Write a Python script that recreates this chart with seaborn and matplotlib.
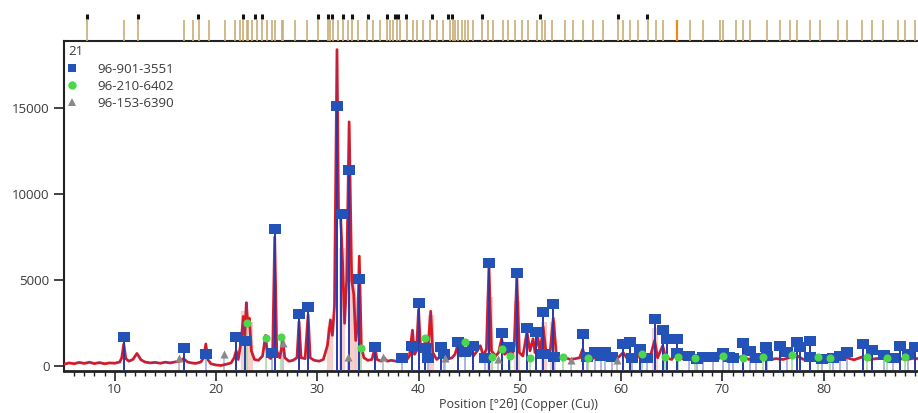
import numpy as np
import pandas as pd
import matplotlib
matplotlib.use("Agg")
import matplotlib.pyplot as plt
import seaborn as sns
from matplotlib.lines import Line2D

# ---------------- data ----------------
# measured profile (2theta, counts)
prof_x = [5.0, 5.5, 6.0, 6.5, 7.0, 7.5, 8.0, 8.5, 9.0, 9.5, 10.0, 10.5, 10.7, 10.9, 11.1, 11.4, 11.8, 12.2, 12.6,
          13.0, 13.5, 14.0, 14.5, 15.0, 15.5, 16.0, 16.4, 16.8, 17.2, 17.6, 18.0, 18.5, 18.8, 19.0, 19.2, 19.5,
          20.0, 20.5, 21.0, 21.5, 21.8, 22.0, 22.2, 22.5, 22.7, 22.85, 23.0, 23.15, 23.3, 23.5, 23.8, 24.2, 24.6,
          24.9, 25.1, 25.4, 25.6, 25.8, 26.0, 26.3, 26.6, 26.8, 27.2, 27.6, 28.0, 28.2, 28.4, 28.8, 29.1, 29.3,
          29.7, 30.2, 30.6, 31.0, 31.3, 31.5, 31.7, 31.95, 32.1, 32.3, 32.5, 32.7, 32.9, 33.15, 33.4, 33.6, 33.8,
          34.0, 34.15, 34.35, 34.6, 35.0, 35.4, 35.7, 35.9, 36.3, 36.6, 36.9, 37.3, 37.8, 38.2, 38.5, 38.8, 39.1,
          39.4, 39.6, 39.8, 40.0, 40.2, 40.5, 40.7, 40.9, 41.2, 41.4, 41.8, 42.2, 42.5, 42.8, 43.3, 43.6, 43.9,
          44.2, 44.6, 45.0, 45.4, 45.8, 46.1, 46.4, 46.7, 46.95, 47.2, 47.6, 47.9, 48.2, 48.5, 48.9, 49.2, 49.45,
          49.7, 49.95, 50.3, 50.7, 51.0, 51.3, 51.5, 51.75, 52.0, 52.3, 52.6, 53.0, 53.3, 53.6, 54.0, 54.5, 55.0,
          55.5, 55.9, 56.2, 56.5, 57.0, 57.5, 58.0, 58.5, 59.0, 59.5, 60.2, 60.6, 61.0, 61.5, 61.9, 62.3, 62.8,
          63.3, 63.6, 64.1, 64.4, 65.0, 65.5, 65.9, 66.5, 67.0, 67.6, 68.2, 69.0, 69.6, 70.1, 70.6, 71.3, 72.0,
          72.6, 73.2, 74.0, 74.6, 75.3, 76.0, 76.8, 77.4, 78.0, 78.6, 79.3, 80.0, 80.7, 81.4, 82.3, 83.0, 83.8,
          84.5, 85.2, 86.0, 86.8, 87.5, 88.2, 89.0, 89.5, 90.0]
prof_y = [120, 200, 150, 230, 170, 240, 160, 220, 150, 200, 180, 250, 500, 1300, 450, 300, 400, 750, 380,
          250, 200, 230, 180, 240, 200, 260, 300, 450, 250, 200, 170, 250, 500, 1300, 400, 150,
          80, 50, 120, 200, 500, 900, 400, 1500, 2900, 1800, 3700, 2400, 2800, 900, 400, 350, 600,
          1800, 600, 450, 800, 7500, 900, 500, 1500, 500, 300, 350, 500, 2600, 500, 450, 3000, 500,
          350, 300, 400, 1200, 2700, 1800, 3500, 18400, 9000, 8800, 6000, 2500, 5000, 14200, 5000, 4200, 1500,
          2500, 6400, 1200, 500, 350, 400, 1100, 400, 300, 500, 300, 350, 300, 400, 600, 350, 600,
          2100, 700, 900, 3300, 1000, 800, 1700, 800, 3200, 800, 400, 600, 800, 400, 500, 700, 1300,
          600, 900, 1000, 600, 900, 1200, 600, 1000, 5800, 900, 600, 800, 1600, 700, 900, 600, 1200,
          5200, 800, 600, 2000, 900, 1600, 800, 1800, 800, 2300, 700, 900, 2800, 700, 450, 500, 400,
          450, 500, 1000, 450, 400, 550, 500, 400, 450, 400, 800, 450, 600, 400, 900, 450, 400,
          1500, 500, 1200, 500, 400, 900, 450, 400, 500, 380, 450, 380, 450, 600, 400, 450, 600,
          400, 450, 500, 380, 450, 400, 550, 600, 400, 500, 380, 450, 400, 450, 500, 380, 550,
          400, 450, 500, 380, 450, 400, 480, 400, 420]

# phase 96-901-3551 (blue squares)
blue_x = [10.9, 16.85, 19.0, 22.0, 22.9, 25.5, 25.8, 28.2, 29.1, 31.95, 32.3, 33.1, 34.1, 35.7, 38.4, 39.35,
          40.0, 40.6, 40.9, 42.2, 42.5, 43.9, 44.6, 45.4, 46.6, 47.0, 48.2, 48.9, 49.7, 50.7, 51.6, 52.3, 53.3,
          52.3, 53.4, 56.2, 56.6, 57.4, 58.4, 59.1, 60.2, 60.9, 61.1, 61.9, 63.3, 64.1, 64.5, 65.5, 65.5, 66.7,
          68.1, 69.1, 70.1, 71.0, 72.0, 72.7, 74.3, 74.4, 75.7, 76.4, 77.4, 77.7, 78.6, 78.6, 80.9, 82.3, 83.9,
          84.8, 85.9, 87.5, 89.0, 67.5, 73.3, 81.6, 86.8, 88.3, 79.8, 70.6, 62.6, 58.0]
blue_y = [1700, 1050, 700, 1700, 1450, 770, 7960, 3020, 3430, 15100, 8840, 11400, 5060, 1150, 460, 1160,
          3660, 1050, 470, 1100, 700, 1400, 810, 1160, 470, 5990, 1920, 1100, 5410, 2210, 1980, 3140, 3600,
          700, 520, 1860, 520, 810, 810, 520, 1280, 1400, 470, 990, 2730, 2090, 1570, 1570, 760, 580,
          520, 520, 760, 470, 1340, 870, 1100, 580, 1160, 810, 1400, 1100, 1450, 520, 470, 810, 1280,
          930, 640, 1160, 1100, 450, 500, 600, 480, 700, 450, 520, 480, 600]

# phase 96-210-6402 (green circles)
green_x = [23.1, 24.9, 26.4, 34.3, 40.6, 44.6, 47.3, 48.2, 49.0, 51.0, 54.3, 56.7, 62.1, 64.3, 65.6, 67.3,
           70.1, 72.0, 74.0, 76.9, 79.4, 80.6, 84.3, 86.2, 88.0]
green_y = [2500, 1630, 1690, 1050, 1630, 1400, 520, 990, 580, 470, 520, 470, 700, 520, 520, 470,
           580, 470, 520, 640, 520, 470, 520, 470, 520]

# phase 96-153-6390 (grey triangles)
grey_x = [16.4, 20.8, 26.6, 33.0, 36.5, 42.6, 47.8, 55.0, 59.6]
grey_y = [470, 700, 1340, 520, 520, 470, 400, 380, 380]

# light reference sticks of the other phases
pale_x = [32.4, 33.5, 22.8, 23.4, 31.3, 34.0, 41.2, 47.05, 49.75, 52.4, 53.3, 63.3]
pale_y = [6900, 5000, 3200, 2600, 2300, 4000, 3000, 4000, 3800, 2600, 2600, 2200]

# reference stick positions in the top strip
strip_x = [7.27, 10.92, 12.30, 16.85, 17.73, 18.33, 19.31, 20.89, 21.88, 22.37, 22.67, 23.07, 23.16, 23.56,
           24.05, 24.55, 25.04, 25.53, 25.83, 26.52, 26.62, 27.80, 28.99, 30.07, 31.06, 31.26, 31.55, 32.05,
           32.54, 33.04, 33.43, 34.02, 34.91, 35.50, 36.19, 36.89, 37.18, 37.48, 37.87, 38.17, 38.86, 39.45,
           39.85, 40.44, 41.13, 41.82, 42.41, 43.10, 43.40, 43.60, 43.89, 44.29, 44.59, 44.88, 45.38, 46.26,
           46.86, 47.35, 48.34, 48.83, 49.52, 50.21, 50.80, 51.69, 52.19, 52.48, 53.17, 54.46, 55.25, 56.23,
           57.22, 58.21, 59.69, 60.18, 60.87, 61.66, 62.65, 63.44, 64.13, 65.51, 66.80, 68.08, 69.76, 70.05,
           71.34, 72.03, 72.72, 74.40, 75.68, 76.67, 77.36, 78.64, 79.63, 81.41, 82.30, 83.78, 84.76, 85.85,
           87.33, 88.02, 89.01]
# black markers at the top of the strip
mark_x = [7.27, 12.30, 18.2, 22.7, 23.85, 24.55, 30.07, 31.06, 31.46, 32.54, 33.43, 35.0, 36.9, 37.7,
          37.97, 38.76, 41.33, 42.9, 43.3, 46.26, 51.99, 59.7, 62.55]

legend_title = "21"
legend_labels = ["96-901-3551", "96-210-6402", "96-153-6390"]
x_ticks = [10, 20, 30, 40, 50, 60, 70, 80]
y_ticks = [0, 5000, 10000, 15000]
x_label = "Position [°2θ] (Copper (Cu))"

# ---------------- style ----------------
sns.set_theme(style="ticks")
plt.rcParams["font.family"] = ["Open Sans", "DejaVu Sans"]
TXT = "#3a3a3a"

W, H = 918, 413
fig = plt.figure(figsize=(W / 100, H / 100), dpi=100)
L, R = 64 / W, 1.0
B, T = 1 - 371 / H, 1 - 41 / H
ax = fig.add_axes([L, B, R - L, T - B])
axs = fig.add_axes([L, T, R - L, (41 - 10) / H])

XMIN, XMAX = 5.0, 5.0 + (W - 64) / 10.13
YMIN, YMAX = -270, 18900

# pale reference sticks
ax.vlines(pale_x, YMIN, pale_y, color="#f2c4c0", lw=4.5, alpha=0.8, zorder=1)

# sticks of phases
ax.vlines(green_x, YMIN, green_y, color="#9fe09f", lw=1.2, zorder=2)
ax.vlines(grey_x, YMIN, grey_y, color="#b9b9c9", lw=1.2, zorder=2)
ax.vlines(blue_x, YMIN, blue_y, color="#aab0e8", lw=1.3, zorder=2)

# profile
df = pd.DataFrame({"x": prof_x, "y": prof_y})
sns.lineplot(data=df, x="x", y="y", ax=ax, color="#e41c1c", lw=2.0, sort=False, estimator=None, zorder=3)
sns.lineplot(data=df, x="x", y="y", ax=ax, color="#7a2a8a", lw=0.7, sort=False, estimator=None, zorder=4, alpha=0.6)

# dark blue sticks on top for the blue phase
tall = [(x, y) for x, y in zip(blue_x, blue_y) if y > 900]
ax.vlines([t[0] for t in tall], YMIN, [t[1] for t in tall], color="#2a3aa8", lw=1.4, zorder=5)

rect = [(-1.3, -1), (1.3, -1), (1.3, 1), (-1.3, 1), (-1.3, -1)]
sns.scatterplot(x=blue_x, y=blue_y, ax=ax, marker=rect, s=80, color="#2352b8", linewidth=0, zorder=6)
sns.scatterplot(x=green_x, y=green_y, ax=ax, marker="o", s=34, color="#4cd64c", linewidth=0, zorder=6)
sns.scatterplot(x=grey_x, y=grey_y, ax=ax, marker="^", s=34, color="#8a8a8a", linewidth=0, zorder=6)

ax.set_xlim(XMIN, XMAX)
ax.set_ylim(YMIN, YMAX)
ax.set_xticks(x_ticks)
ax.set_xticks(np.arange(6, 90, 1), minor=True)
ax.set_yticks(y_ticks)
ax.set_yticklabels([str(v) for v in y_ticks])
ax.tick_params(axis="both", which="major", length=7, width=1.2, color="#222", labelcolor=TXT, labelsize=9.5)
ax.tick_params(axis="x", which="major", pad=1.5)
ax.tick_params(axis="x", which="minor", length=3.5, width=1.0, color="#222")
ax.set_xlabel(x_label, color=TXT, fontsize=9)
ax.xaxis.set_label_coords((518 - 64) / (W - 64), -0.082)
ax.set_ylabel("")
for s in ["left", "bottom", "top"]:
    ax.spines[s].set_color("#222")
ax.spines["left"].set_linewidth(1.5)
ax.spines["bottom"].set_linewidth(2.0)
ax.spines["top"].set_linewidth(1.5)
ax.spines["right"].set_visible(False)

handles = [
    Line2D([], [], ls="none", marker="s", markersize=6, color="#2352b8", mew=0),
    Line2D([], [], ls="none", marker="o", markersize=6, color="#4cd64c", mew=0),
    Line2D([], [], ls="none", marker="^", markersize=6, color="#8a8a8a", mew=0),
]
leg = ax.legend(handles, legend_labels, title=legend_title, loc="upper left", bbox_to_anchor=(-0.006, 1.015),
                frameon=False, handlelength=0.6, handletextpad=1.6, labelspacing=0.32, borderpad=0.2,
                fontsize=9.5, title_fontsize=9.5, alignment="left")
for t in leg.get_texts():
    t.set_color(TXT)
leg.get_title().set_color(TXT)

# top strip
axs.set_xlim(XMIN, XMAX)
axs.set_ylim(0, 1)
axs.vlines(strip_x, 0, 0.68, color="#c8ad78", lw=1.2)
axs.vlines([65.51], 0, 0.68, color="#f08a1a", lw=1.6)
axs.vlines(mark_x, 0.72, 0.88, color="#111", lw=2.2)
axs.axis("off")

fig.savefig("out.png", dpi=100)
